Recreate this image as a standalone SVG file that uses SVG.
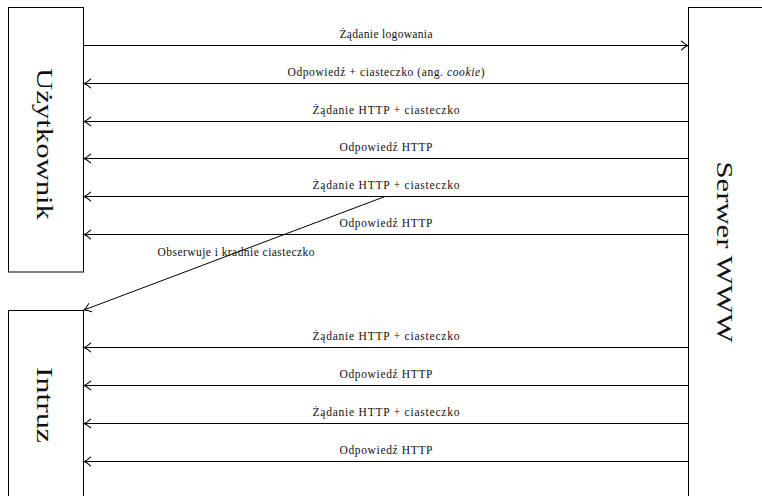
<svg xmlns="http://www.w3.org/2000/svg" width="762" height="496" viewBox="0 0 762 496">
<style>
.box{fill:#fff;stroke:#000;stroke-width:1}
.big{font-family:"Liberation Serif",serif;font-size:24px;fill:#111;text-anchor:middle}
.lbl{font-family:"Liberation Serif",serif;font-size:11.5px;fill:#111;text-anchor:middle}
.arr{stroke:#000;stroke-width:1;fill:none;marker-end:url(#ah)}
</style>
<defs>
<marker id="ah" markerUnits="userSpaceOnUse" markerWidth="12" markerHeight="12" viewBox="-7 -5 8 10" refX="0" refY="0" orient="auto">
<path d="M-5.5,-3.6 Q-2.2,-0.6 0,0 Q-2.2,0.6 -5.5,3.6" fill="none" stroke="#000" stroke-width="0.9" stroke-linecap="round"/>
</marker>
</defs>
<rect width="762" height="496" fill="#fff"/>
<g id="uzytkownik">
<rect class="box" x="8.5" y="7.5" width="75" height="264.5"/>
<text class="big" transform="translate(37,144) rotate(90)" textLength="152" lengthAdjust="spacingAndGlyphs">Użytkownik</text>
</g>
<g id="intruz">
<rect class="box" x="8.5" y="310.5" width="75" height="200"/>
<text class="big" transform="translate(37,405) rotate(90)" textLength="76" lengthAdjust="spacingAndGlyphs">Intruz</text>
</g>
<g id="serwer">
<rect class="box" x="688.5" y="7.5" width="100" height="500"/>
<text class="big" transform="translate(717,252) rotate(90)" textLength="181" lengthAdjust="spacingAndGlyphs">Serwer WWW</text>
</g>
<g id="connectors">
<line class="arr" x1="83.5" y1="45.5" x2="688" y2="45.5"/>
<line class="arr" x1="688.5" y1="83.5" x2="84" y2="83.5"/>
<line class="arr" x1="688.5" y1="121.5" x2="84" y2="121.5"/>
<line class="arr" x1="688.5" y1="158.5" x2="84" y2="158.5"/>
<line class="arr" x1="688.5" y1="196.5" x2="84" y2="196.5"/>
<line class="arr" x1="688.5" y1="234.5" x2="84" y2="234.5"/>
<line class="arr" x1="385" y1="196.5" x2="84" y2="310"/>
<line class="arr" x1="688.5" y1="347.5" x2="84" y2="347.5"/>
<line class="arr" x1="688.5" y1="385.5" x2="84" y2="385.5"/>
<line class="arr" x1="688.5" y1="423.5" x2="84" y2="423.5"/>
<line class="arr" x1="688.5" y1="461.5" x2="84" y2="461.5"/>
</g>
<g id="labels">
<text class="lbl" x="386" y="37.5" textLength="93">Żądanie logowania</text>
<text class="lbl" x="386" y="76" textLength="197">Odpowiedź + ciasteczko (ang. <tspan font-style="italic">cookie</tspan>)</text>
<text class="lbl" x="386" y="114" textLength="147">Żądanie HTTP + ciasteczko</text>
<text class="lbl" x="386" y="151" textLength="93">Odpowiedź HTTP</text>
<text class="lbl" x="386" y="189" textLength="147">Żądanie HTTP + ciasteczko</text>
<text class="lbl" x="386" y="227" textLength="93">Odpowiedź HTTP</text>
<text class="lbl" x="236" y="256" textLength="157">Obserwuje i kradnie ciasteczko</text>
<text class="lbl" x="386" y="340" textLength="147">Żądanie HTTP + ciasteczko</text>
<text class="lbl" x="386" y="378" textLength="93">Odpowiedź HTTP</text>
<text class="lbl" x="386" y="416" textLength="147">Żądanie HTTP + ciasteczko</text>
<text class="lbl" x="386" y="454" textLength="93">Odpowiedź HTTP</text>
</g>
</svg>
